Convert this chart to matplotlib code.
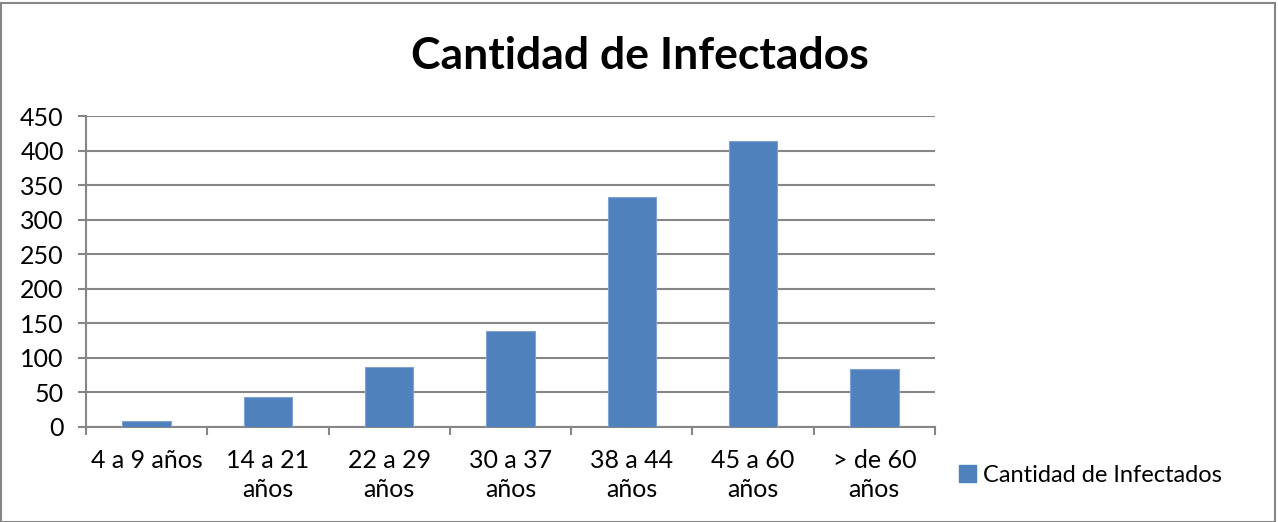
import matplotlib
matplotlib.use("Agg")
import matplotlib.pyplot as plt
from matplotlib.patches import Rectangle
import numpy as np

categories = ["4 a 9 años", "14 a 21\naños", "22 a 29\naños", "30 a 37\naños",
              "38 a 44\naños", "45 a 60\naños", "> de 60\naños"]
values = [8, 44, 87, 139, 333, 414, 84]
yticks = [0, 50, 100, 150, 200, 250, 300, 350, 400, 450]
title = "Cantidad de Infectados"
series_name = "Cantidad de Infectados"

plt.rcParams['font.family'] = ['Lato', 'DejaVu Sans']

fig = plt.figure(figsize=(12.78, 5.22), dpi=100)
W, H = 1278, 522
ax = fig.add_axes([86 / W, 1 - 427 / H, (935 - 86) / W, (427 - 116) / H])

x = np.arange(len(categories))
ax.bar(x, values, width=0.4, color="#4F81BD", edgecolor="#7EA3D3", linewidth=0.8, zorder=3,
       label=series_name)
ax.set_xlim(-0.5, len(categories) - 0.5)
ax.set_ylim(0, 450)
ax.set_yticks(yticks)
ax.set_yticklabels([str(v) for v in yticks], fontsize=18)
ax.grid(axis="y", color="#868686", linewidth=1.5, zorder=0)
ax.set_xticks(x)
ax.set_xticklabels(categories, fontsize=18, linespacing=1.3)
ax.tick_params(axis="x", length=0, pad=16)
# category boundary ticks
ax.set_xticks(np.arange(-0.5, len(categories), 1), minor=True)
ax.tick_params(axis="x", which="minor", length=6, color="#868686", width=1.5)
ax.tick_params(axis="y", length=6, color="#868686", width=1.5, pad=10)
for s in ["top", "right"]:
    ax.spines[s].set_visible(False)
for s in ["left", "bottom"]:
    ax.spines[s].set_color("#868686")
    ax.spines[s].set_linewidth(1.5)

fig.text(640 / W, 1 - 56 / H, title, ha="center", va="center", fontsize=32, fontweight="bold")

leg = fig.legend(handles=[Rectangle((0, 0), 1, 1, color="#4F81BD")], labels=[series_name],
                 loc="center left", bbox_to_anchor=(938 / W, 1 - 475 / H), frameon=False,
                 fontsize=17, handlelength=0.7, handleheight=0.7, handletextpad=0.3)

fig.patches.append(Rectangle((0.5 / W, 0.5 / H), (W - 4) / W, (H - 3) / H, transform=fig.transFigure,
                             fill=False, edgecolor="#868686", linewidth=1.5))

fig.savefig("out.png", dpi=100)
